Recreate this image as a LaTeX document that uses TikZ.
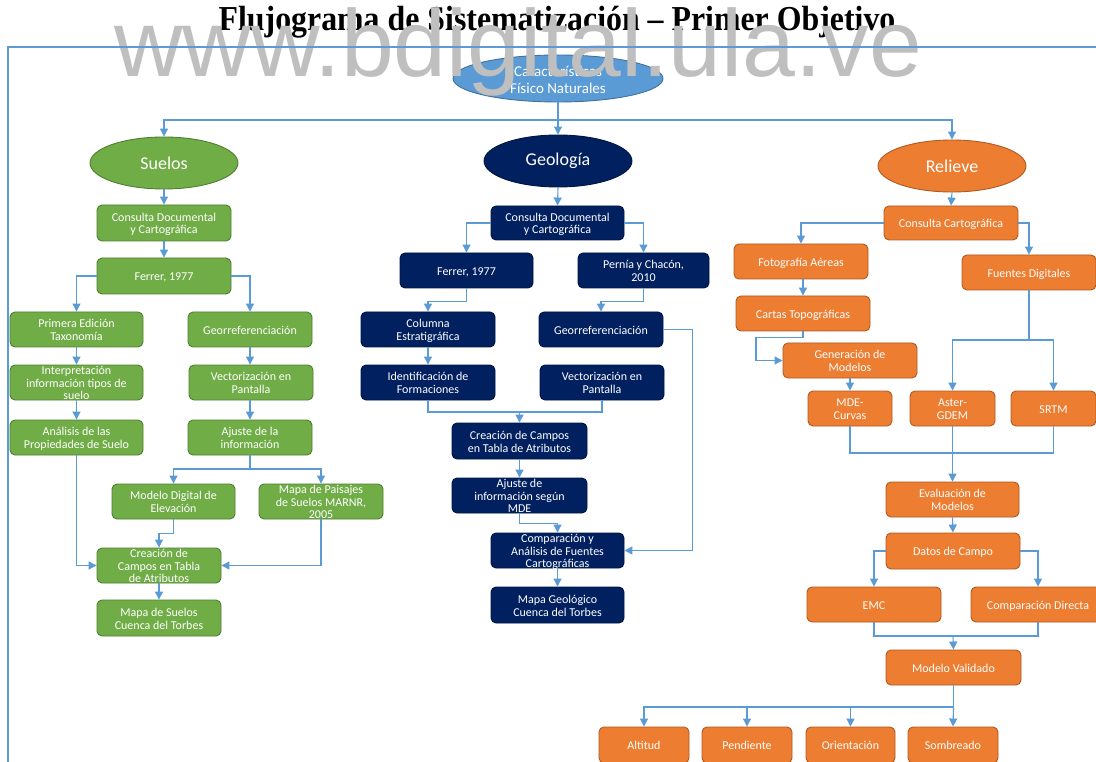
\documentclass[tikz,border=0pt]{standalone}
\usepackage{fontspec}
\usetikzlibrary{arrows.meta,shapes.geometric,calc}
\newfontfamily\calib{Carlito}
\newfontfamily\titleserif{Liberation Serif}
\newfontfamily\wmsans{Liberation Sans}
\definecolor{lineblue}{HTML}{5B9BD5}
\definecolor{topblue}{HTML}{5B9BD5}
\definecolor{topblueD}{HTML}{41719C}
\definecolor{sgreen}{HTML}{70AD47}
\definecolor{sgreenD}{HTML}{507E32}
\definecolor{navy}{HTML}{002060}
\definecolor{navyD}{HTML}{001540}
\definecolor{orng}{HTML}{ED7D31}
\definecolor{orngD}{HTML}{AE5A21}
\definecolor{wmgray}{HTML}{BFBFBF}
% multi-line box text that does not stretch the box
\newcommand\tx[1]{\raisebox{-0.42em}[0pt][0pt]{\begin{tabular}{@{}c@{}}#1\end{tabular}}}
\begin{document}
\begin{tikzpicture}[x=1pt,y=-1pt,
  box/.style={rounded corners=5pt, line width=0.9pt, text=white, inner sep=0pt,
    font=\calib\fontsize{12}{12.8}\selectfont},
  gbox/.style={box, fill=sgreen, draw=sgreenD},
  nbox/.style={box, fill=navy, draw=navyD},
  obox/.style={box, fill=orng, draw=orngD},
  sz/.style 2 args={minimum width=#1pt, minimum height=#2pt},
  oval/.style={ellipse, inner sep=0pt, line width=0.9pt, text=white,
    font=\calib\fontsize{18}{20}\selectfont},
  conn/.style={draw=lineblue, line width=1.1pt},
  arr/.style={conn, -{Triangle[length=8pt,width=8pt]}},
  frameline/.style={draw=lineblue, line width=2pt}
]
\useasboundingbox (0,0) rectangle (1096,762);
\clip (0,0) rectangle (1096,762);
\fill[white] (0,0) rectangle (1096,762);

% title
\node[anchor=base, inner sep=0pt, font=\titleserif\bfseries\fontsize{35}{38}\selectfont] (title) at (557,31)
  {\scalebox{0.91}[1]{Flujograma de Sistematización – Primer Objetivo}};

% main ellipses
\node[oval, fill=topblue, draw=topblueD, sz={210}{47}, font=\calib\fontsize{15}{17}\selectfont] (top) at (558,78.5)
  {\tx{Características\\Físico Naturales}};
\node[oval, fill=sgreen, draw=sgreenD, sz={148}{52}] (suelos) at (164,163) {Suelos};
\node[oval, fill=navy, draw=navyD, sz={148}{52}] (geo) at (558,161) {Geología};
\node[oval, fill=orng, draw=orngD, sz={148}{52}] (rel) at (952,166) {Relieve};

% ---------- Suelos ----------
\node[gbox, sz={134}{36}] (sc1) at (164,223) {\tx{Consulta Documental\\y Cartográfica}};
\node[gbox, sz={134}{36}] (sf) at (164,276) {\tx{Ferrer, 1977}};
\node[gbox, sz={133}{35}] (sp) at (76.5,329.5) {\tx{Primera Edición\\Taxonomía}};
\node[gbox, sz={124}{35}] (sg) at (250,329.5) {\tx{Georreferenciación}};
\node[gbox, sz={133}{35}] (si) at (76.5,382.5) {\tx{Interpretación\\información tipos de\\suelo}};
\node[gbox, sz={124}{35}] (sv) at (251,382.5) {\tx{Vectorización en\\Pantalla}};
\node[gbox, sz={133}{35}] (sa) at (76.5,437.5) {\tx{Análisis de las\\Propiedades de Suelo}};
\node[gbox, sz={124}{35}] (sj) at (250,437.5) {\tx{Ajuste de la\\información}};
\node[gbox, sz={123}{35}] (sm) at (173.5,501.5) {\tx{Modelo Digital de\\Elevación}};
\node[gbox, sz={124}{35}] (sk) at (321,501.5) {\tx{Mapa de Paisajes\\de Suelos MARNR,\\2005}};
\node[gbox, sz={124}{35}] (sc) at (159,565.5) {\tx{Creación de\\Campos en Tabla\\de Atributos}};
\node[gbox, sz={124}{36}] (ss) at (159,618) {\tx{Mapa de Suelos\\Cuenca del Torbes}};

% ---------- Geología ----------
\node[nbox, sz={133}{34}] (gc) at (557.5,223) {\tx{Consulta Documental\\y Cartográfica}};
\node[nbox, sz={133}{35}] (gf) at (466.5,270.5) {\tx{Ferrer, 1977}};
\node[nbox, sz={131}{35}] (gp) at (643.5,270.5) {\tx{Pernía y Chacón,\\2010}};
\node[nbox, sz={134}{35}] (gcol) at (428,329.5) {\tx{Columna\\Estratigráfica}};
\node[nbox, sz={124}{35}] (gg) at (601,329.5) {\tx{Georreferenciación}};
\node[nbox, sz={134}{35}] (gi) at (428,382.5) {\tx{Identificación de\\Formaciones}};
\node[nbox, sz={124}{35}] (gv) at (602,382.5) {\tx{Vectorización en\\Pantalla}};
\node[nbox, sz={135}{36}] (gcr) at (519.5,441) {\tx{Creación de Campos\\en Tabla de Atributos}};
\node[nbox, sz={135}{35}] (ga) at (519.5,495.5) {\tx{Ajuste de\\información según\\MDE}};
\node[nbox, sz={133}{35}] (gco) at (557.5,550.5) {\tx{Comparación y\\Análisis de Fuentes\\Cartográficas}};
\node[nbox, sz={133}{36}] (gm) at (557.5,605) {\tx{Mapa Geológico\\Cuenca del Torbes}};

% ---------- Relieve ----------
\node[obox, sz={134}{34}] (rc) at (951,223) {\tx{Consulta Cartográfica}};
\node[obox, sz={134}{35}] (rf) at (801,261.5) {\tx{Fotografía Aéreas}};
\node[obox, sz={134}{35}] (rd) at (1029,272.5) {\tx{Fuentes Digitales}};
\node[obox, sz={134}{35}] (rt) at (803,313.5) {\tx{Cartas Topográficas}};
\node[obox, sz={134}{35}] (rg) at (850,360.5) {\tx{Generación de\\Modelos}};
\node[obox, sz={84}{35}] (rm) at (850,408.5) {\tx{MDE-\\Curvas}};
\node[obox, sz={85}{35}] (ra) at (952.5,408.5) {\tx{Aster-\\GDEM}};
\node[obox, sz={85}{35}] (rs) at (1053.5,408.5) {\tx{SRTM}};
\node[obox, sz={133}{35}] (re) at (952.5,499.5) {\tx{Evaluación de\\Modelos}};
\node[obox, sz={134}{36}] (rdc) at (953,551) {\tx{Datos de Campo}};
\node[obox, sz={134}{35}] (rx) at (874,604.5) {\tx{EMC}};
\node[obox, sz={134}{35}] (rcd) at (1038,604.5) {\tx{Comparación Directa}};
\node[obox, sz={135}{35}] (rv) at (953.5,667.5) {\tx{Modelo Validado}};
\node[obox, sz={90}{36}] (r1) at (644,745) {\tx{Altitud}};
\node[obox, sz={90}{36}] (r2) at (747,745) {\tx{Pendiente}};
\node[obox, sz={89}{36}] (r3) at (850.5,745) {\tx{Orientación}};
\node[obox, sz={90}{36}] (r4) at (953,745) {\tx{Sombreado}};

% ---------- connectors ----------
\coordinate (jTop) at (558,120);
\draw[arr] (top.south) -- (geo.north);
\draw[arr] (jTop) -| (suelos.north);
\draw[arr] (jTop) -| (rel.north);

% Suelos
\draw[arr] (suelos.south) -- (sc1.north);
\draw[arr] (sc1.south) -- (sf.north);
\draw[arr] (sf.west) -| (sp.north);
\draw[arr] (sf.east) -| (sg.north);
\draw[arr] (sp.south) -- (si.north);
\draw[arr] (si.south) -- (sa.north);
\draw[arr] (sg.south) -- (sg.south |- sv.north);
\draw[arr] (sg.south |- sv.south) -- (sg.south |- sj.north);
\coordinate (sJ) at (250,469);
\draw[conn] (sj.south) -- (sJ);
\draw[arr] (sJ) -| (sm.north);
\draw[arr] (sJ) -| (sk.north);
\draw[arr] (sa.south) |- (sc.west);
\draw[arr] (sm.south) -- ++(0,14) -| (sc.north);
\draw[arr] (sk.south) |- (sc.east);
\draw[arr] (sc.south) -- (ss.north);

% Geología
\draw[arr] (geo.south) -- (gc.north);
\draw[arr] (gc.west) -| (gf.north);
\draw[arr] (gc.east) -| (gp.north);
\draw[arr] (gf.south) -- ++(0,13) -| (gcol.north);
\draw[arr] (gp.south) -- ++(0,13) -| (gg.north);
\draw[arr] (gcol.south) -- (gi.north);
\draw[arr] (gg.east) -- ++(29,0) |- (gco.east);
\coordinate (gJ) at (519.5,412);
\draw[conn] (gi.south) |- (gJ);
\draw[conn] (gv.south) |- (gJ);
\draw[arr] (gJ) -- (gcr.north);
\draw[arr] (gcr.south) -- (ga.north);
\draw[arr] (ga.south) -- ++(0,10) -| (gco.north);
\draw[arr] (gco.south) -- (gm.north);

% Relieve
\draw[arr] (rel.south) -- (rc.north);
\draw[arr] (rc.west) -| (rf.north);
\draw[arr] (rc.east) -| (rd.north);
\draw[arr] (rt.north |- rf.south) -- (rt.north);
\draw[arr] (rt.south) -- ++(0,6) -- ++(-47,0) |- (rg.west);
\draw[arr] (rg.south) -- (rm.north);
\coordinate (rJ) at (1029,340);
\draw[conn] (rd.south) -- (rJ);
\draw[arr] (rJ) -| (ra.north);
\draw[arr] (rJ) -| (rs.north);
\coordinate (rK) at (952.5,453);
\draw[conn] (rm.south) |- (rK);
\draw[conn] (rs.south) |- (rK);
\draw[arr] (ra.south) -- (re.north);
\draw[arr] (re.south) -- (rdc.north);
\draw[arr] (rdc.west) -| (rx.north);
\draw[arr] (rdc.east) -| (rcd.north);
\coordinate (rL) at (953,636);
\draw[conn] (rx.south) |- (rL);
\draw[conn] (rcd.south) |- (rL);
\draw[arr] (rL) -- (rv.north);
\coordinate (rM) at (953.5,707);
\draw[conn] (rv.south) -- (rM);
\draw[arr] (rM) -| (r1.north);
\draw[arr] (rM) -| (r2.north);
\draw[arr] (rM) -| (r3.north);
\draw[arr] (rM) -- (r4.north);

% watermark
\node[anchor=base west, inner sep=0pt, text=wmgray, font=\wmsans\fontsize{95}{100}\selectfont] (wm) at (114,77) {www.bdigital.ula.ve};

% frame
\draw[frameline] (8,762) -- (8,47.5) -- (1096,47.5);
\end{tikzpicture}
\end{document}
